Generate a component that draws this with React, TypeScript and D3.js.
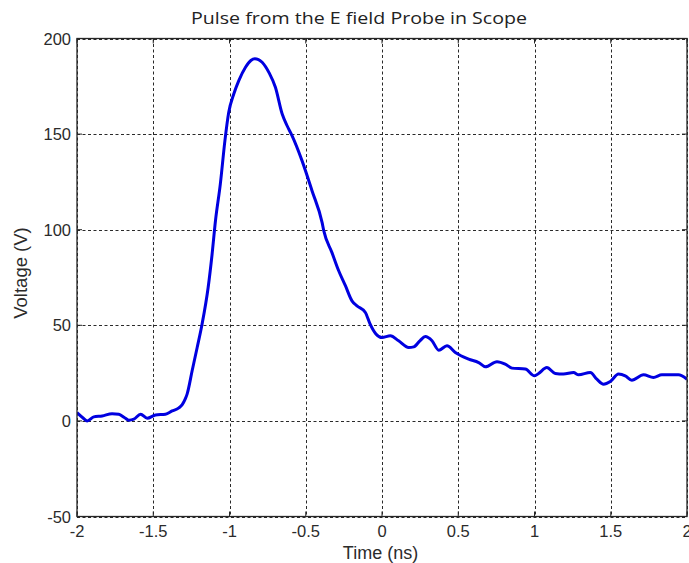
import React from "react";
import * as d3 from "d3";

const timeNs = [
  -2.0, -1.96, -1.933, -1.89, -1.835, -1.77, -1.726, -1.69, -1.66, -1.627, -1.583, -1.54, -1.485, -1.42,
  -1.376, -1.332, -1.31, -1.29, -1.278, -1.245, -1.212, -1.18, -1.14, -1.114, -1.092, -1.06, -1.03, -1.005,
  -0.972, -0.939, -0.895, -0.86, -0.834, -0.81, -0.786, -0.74, -0.699, -0.655, -0.623, -0.59, -0.524, -0.459,
  -0.393, -0.382, -0.328, -0.284, -0.24, -0.197, -0.164, -0.109, -0.08, -0.04, 0.0, 0.055, 0.109, 0.175,
  0.208, 0.25, 0.284, 0.328, 0.372, 0.426, 0.481, 0.568, 0.634, 0.678, 0.754, 0.808, 0.852, 0.94, 1.0,
  1.027, 1.081, 1.136, 1.19, 1.256, 1.289, 1.366, 1.409, 1.453, 1.497, 1.551, 1.595, 1.638, 1.715, 1.78,
  1.835, 1.944, 2.0,
];

const voltage = [
  4.3, 1.5, 0, 2.1, 2.6, 3.8, 3.5, 1.8, 0.4, 0.9, 3.5, 1.4, 3.1, 3.5,
  5.2, 6.8, 8.5, 11.5, 14, 26.2, 38.4, 50.6, 69.8, 87.3, 104.7, 124, 146.6, 161.4,
  171, 178, 185, 188.5, 189.4, 189, 187.6, 182, 174.5, 160.6, 154.5, 149.2, 136, 120.4,
  103.8, 99.5, 88, 78.5, 70.7, 62.8, 60.2, 56.7, 51, 45.5, 43.6, 44.5, 41.9, 38.4,
  38.7, 42, 44.1, 41.9, 37, 39.3, 35.8, 32.3, 30.5, 28.3, 31, 29.7, 27.6, 27.1, 23.6,
  24.8, 27.9, 24.8, 24.5, 25.3, 24.1, 25.3, 21.8, 19.2, 20.6, 24.5, 23.6, 21.3, 24.1, 22.7,
  24.1, 24.1, 21.8,
];

const xTicks = [-2, -1.5, -1, -0.5, 0, 0.5, 1, 1.5, 2];
const xTickLabels = ["-2", "-1.5", "-1", "-0.5", "0", "0.5", "1", "1.5", "2"];
const yTicks = [-50, 0, 50, 100, 150, 200];
const yTickLabels = ["-50", "0", "50", "100", "150", "200"];

const titleText = "Pulse from the E field Probe in Scope";
const xLabel = "Time (ns)";
const yLabel = "Voltage (V)";

export default function App() {
  const W = 689;
  const H = 563;
  const left = 77;
  const right = 687;
  const top = 38.5;
  const bottom = 516.5;

  const x = d3.scaleLinear().domain([-2, 2]).range([left, right]);
  const y = d3.scaleLinear().domain([-50, 200]).range([bottom, top]);

  const pts = timeNs.map((t, i) => [t, voltage[i]] as [number, number]);
  const line = d3
    .line<[number, number]>()
    .x((d) => x(d[0]))
    .y((d) => y(d[1]))
    .curve(d3.curveMonotoneX);

  const axisColor = "#262626";
  const gridColor = "#2a2a2a";
  const tickFont = "'Liberation Sans', Arial, sans-serif";
  const textColor = "#2b2b2b";

  return (
    <svg
      width={W}
      height={H}
      style={{ position: "absolute", left: 0, top: 0, background: "#fff" }}
    >
      <rect x={0} y={0} width={W} height={H} fill="#fff" />
      <defs>
        <clipPath id="plotclip">
          <rect x={left} y={top} width={right - left} height={bottom - top} />
        </clipPath>
      </defs>
      {xTicks.map((t) => (
        <line
          key={"gx" + t}
          x1={Math.round(x(t)) + 0.5}
          x2={Math.round(x(t)) + 0.5}
          y1={top}
          y2={bottom}
          stroke={gridColor}
          strokeWidth={1}
          strokeDasharray="3,2.5"
        />
      ))}
      {yTicks.map((v) => (
        <line
          key={"gy" + v}
          x1={left}
          x2={right}
          y1={Math.round(y(v)) + 0.5}
          y2={Math.round(y(v)) + 0.5}
          stroke={gridColor}
          strokeWidth={1}
          strokeDasharray="3,2.5"
        />
      ))}
      {xTicks.map((t) => (
        <g key={"tx" + t}>
          <line x1={x(t)} x2={x(t)} y1={bottom} y2={bottom - 5} stroke={axisColor} />
          <line x1={x(t)} x2={x(t)} y1={top} y2={top + 5} stroke={axisColor} />
        </g>
      ))}
      {yTicks.map((v) => (
        <g key={"ty" + v}>
          <line x1={left} x2={left + 5} y1={y(v)} y2={y(v)} stroke={axisColor} />
          <line x1={right} x2={right - 5} y1={y(v)} y2={y(v)} stroke={axisColor} />
        </g>
      ))}
      <path
        d={line(pts) || ""}
        fill="none"
        stroke="#0000e0"
        strokeWidth={3}
        strokeLinejoin="round"
        clipPath="url(#plotclip)"
      />
      <rect
        x={left}
        y={top}
        width={right - left}
        height={bottom - top}
        fill="none"
        stroke={axisColor}
        strokeWidth={1.3}
      />
      {xTicks.map((t, i) => (
        <text
          key={"lx" + t}
          x={x(t)}
          y={537}
          textAnchor="middle"
          fontFamily={tickFont}
          fontSize={16.5}
          fill={textColor}
        >
          {xTickLabels[i]}
        </text>
      ))}
      {yTicks.map((v, i) => (
        <text
          key={"ly" + v}
          x={71}
          y={y(v) + 6}
          textAnchor="end"
          fontFamily={tickFont}
          fontSize={16.5}
          fill={textColor}
        >
          {yTickLabels[i]}
        </text>
      ))}
      <text
        x={380.5}
        y={559}
        textAnchor="middle"
        fontFamily={tickFont}
        fontSize={18}
        fill={textColor}
      >
        {xLabel}
      </text>
      <text
        transform={`translate(27,${273}) rotate(-90)`}
        textAnchor="middle"
        fontFamily={tickFont}
        fontSize={18.5}
        fill={textColor}
      >
        {yLabel}
      </text>
      <text
        x={191}
        y={24}
        fontFamily="'Open Sans', 'Noto Sans', sans-serif"
        fontSize={17}
        fill="#222"
        textLength={336}
        lengthAdjust="spacingAndGlyphs"
      >
        {titleText}
      </text>
    </svg>
  );
}
